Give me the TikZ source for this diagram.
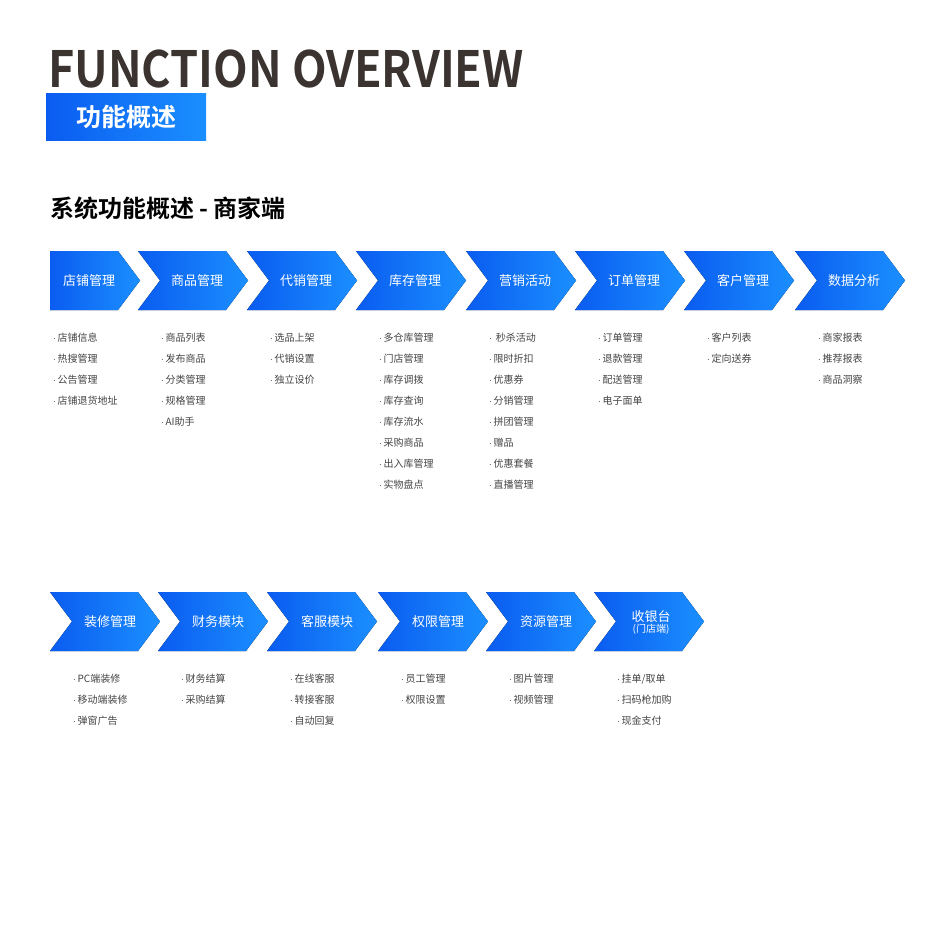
\documentclass[tikz,border=0pt]{standalone}
\usepackage{fontspec}
\setmainfont{Noto Sans CJK SC}
\newfontfamily\heavyfont{Noto Sans CJK SC Bold}
\usetikzlibrary{positioning}
\definecolor{deepblue}{HTML}{0A5CF0}
\definecolor{lightblue}{HTML}{1B8FFF}
\definecolor{titlegray}{HTML}{3A3330}
\definecolor{itemgray}{HTML}{444444}
\tikzset{
  chevfill/.style={left color=deepblue, right color=lightblue, draw=none},
  chevlabel/.style={text=white, font=\fontsize{13}{14}\selectfont, align=center},
  item/.style={anchor=west, text=itemgray, font=\fontsize{10}{12}\selectfont, inner sep=0pt},
}
% chevron: left x, top y, notch (1/0)
\newcommand{\chevron}[3]{%
  \ifnum#3=1
    \fill[chevfill] (#1,#2) -- (#1+88,#2) -- (#1+110,#2+29.5) -- (#1+88,#2+59) -- (#1,#2+59) -- (#1+22,#2+29.5) -- cycle;
  \else
    \fill[chevfill] (#1,#2) -- (#1+68,#2) -- (#1+90,#2+29.5) -- (#1+68,#2+59) -- (#1,#2+59) -- cycle;
  \fi}
\begin{document}
\begin{tikzpicture}[x=1pt,y=-1pt]
\useasboundingbox (0,0) rectangle (952,952);
\fill[white] (0,0) rectangle (952,952);

% headings
\node[anchor=base west, inner sep=0pt, text=titlegray, font=\heavyfont\fontsize{50}{50}\selectfont] (title) at (48,88) {\scalebox{0.9}[1]{FUNCTION OVERVIEW}};
\fill[left color=deepblue, right color=lightblue] (46,94) rectangle (206,141);
\node[text=white, font=\heavyfont\fontsize{25}{25}\selectfont] (tag) at (126,117.5) {功能概述};
\node[anchor=west, inner sep=0pt, text=black, font=\heavyfont\fontsize{24}{24}\selectfont] (sub) at (50,208) {系统功能概述 - 商家端};

% top row
\chevron{50}{251}{0}
\node[chevlabel] (shop) at (89,281) {店铺管理};
\foreach \x/\lab/\nm in {138/商品管理/goods, 247/代销管理/agent, 356/库存管理/stock, 466/营销活动/promo, 575/订单管理/order, 684/客户管理/client, 795/数据分析/data}{
  \chevron{\x}{251}{1}
  \node[chevlabel] (\nm) at (\x+59,281) {\lab};
}
\foreach \x/\list in {
  53/{店铺信息,热搜管理,公告管理,店铺退货地址},
  161/{商品列表,发布商品,分类管理,规格管理,AI助手},
  270/{选品上架,代销设置,独立设价},
  379/{多仓库管理,门店管理,库存调拨,库存查询,库存流水,采购商品,出入库管理,实物盘点},
  489/{\ 秒杀活动,限时折扣,优惠券,分销管理,拼团管理,赠品,优惠套餐,直播管理},
  598/{订单管理,退款管理,配送管理,电子面单},
  707/{客户列表,定向送券},
  818/{商家报表,推荐报表,商品洞察}}{
  \foreach \t [count=\i] in \list
    \node[item] at (\x,338+21*\i-21) {$\cdot$\,\t};
}

% bottom row
\foreach \x/\lab/\nm in {50/装修管理/decor, 158/财务模块/finance, 267/客服模块/service, 378/权限管理/perm, 486/资源管理/media}{
  \chevron{\x}{592}{1}
  \node[chevlabel] (\nm) at (\x+60,622) {\lab};
}
\chevron{594}{592}{1}
\node[chevlabel] (cashier) at (651,622) {收银台\\[-3pt]{\fontsize{10}{11}\selectfont (门店端)}};
\foreach \x/\list in {
  73/{PC端装修,移动端装修,弹窗广告},
  181/{财务结算,采购结算},
  290/{在线客服,转接客服,自动回复},
  401/{员工管理,权限设置},
  509/{图片管理,视频管理},
  617/{挂单/取单,扫码枪加购,现金支付}}{
  \foreach \t [count=\i] in \list
    \node[item] at (\x,679+21*\i-21) {$\cdot$\,\t};
}
\end{tikzpicture}
\end{document}
